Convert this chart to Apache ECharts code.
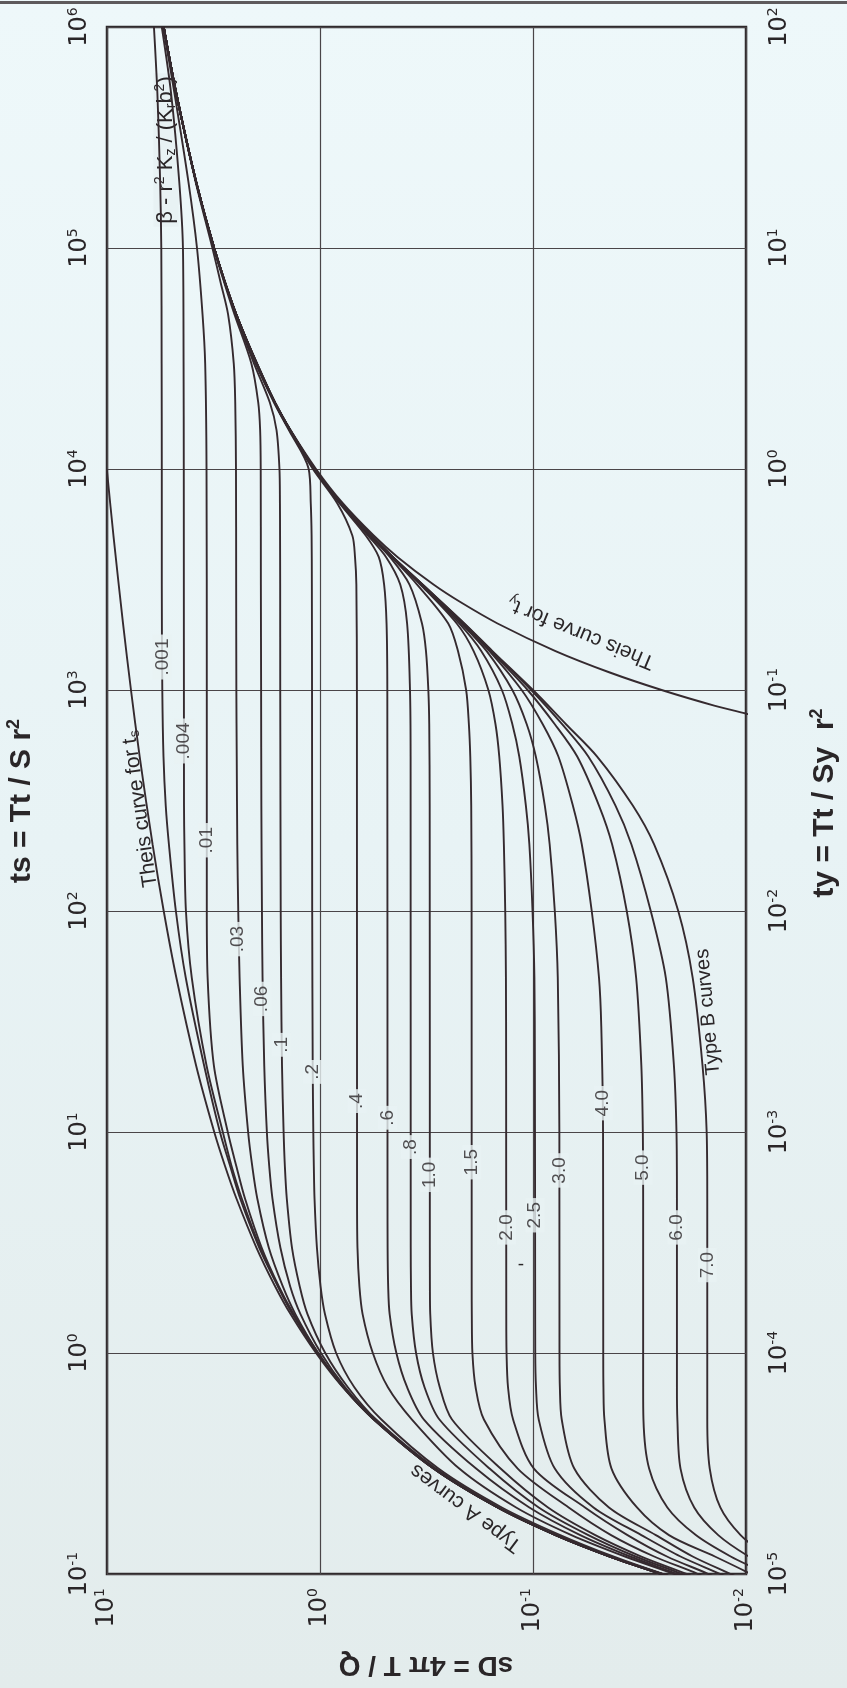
<!DOCTYPE html>
<html><head><meta charset="utf-8">
<script src="https://cdn.jsdelivr.net/npm/echarts@6/dist/echarts.min.js"></script>
<style>
html,body{margin:0;padding:0;}
body{width:847px;height:1688px;background:linear-gradient(180deg,#eef8fa 0%,#e8f3f5 50%,#e3ecec 100%);}
#chart{width:847px;height:1688px;}
</style></head><body><div id="chart"></div>
<script>
// ---------- axis ticks (decade exponents) ----------
const tsTickExp = [-1, 0, 1, 2, 3, 4, 5, 6];      // ts = Tt / S r^2 (left)
const tyTickExp = [-5, -4, -3, -2, -1, 0, 1, 2];  // ty = Tt / Sy r^2 (right)
const sdTickExp = [1, 0, -1, -2];                 // sD = 4 pi T / Q (bottom)

// ---------- curves, pairs [ts, sD] ----------
const theisS = [[0.09,0.0174],[0.1,0.0249],[0.12,0.0436],[0.15,0.0784],[0.2,0.1467],[0.3,0.2932],[0.5,0.5598],[0.7,0.782],[1,1.044],[1.5,1.375],[2,1.623],[3,1.989],[5,2.468],[7,2.79],[10,3.137],[20,3.817],[50,4.726],[100,5.417],[200,6.109],[500,7.024],[1000,7.717],[2000,8.41],[5000,9.327],[10000,10.02]];
const theisY = [[700,0.0064],[778,0.0098],[850,0.0141],[1000,0.0249],[1200,0.0436],[1500,0.0784],[2000,0.1467],[2500,0.2194],[3000,0.2932],[4000,0.433],[5000,0.5598],[7000,0.782],[10000,1.044],[15000,1.375],[20000,1.623],[30000,1.989],[50000,2.468],[70000,2.79],[100000,3.137],[200000,3.817],[500000,4.726],[1000000,5.417]];

const b0001 = [[0.09,0.0174],[0.1,0.0249],[0.12,0.0436],[0.15,0.0784],[0.2,0.1466],[0.3,0.293],[0.5,0.557],[0.7,0.777],[1,1.03],[1.5,1.345],[2,1.575],[3,1.93],[5,2.37],[7,2.64],[10,2.95],[20,3.5],[50,4.27],[100,4.75],[200,5.12],[300,5.3],[500,5.43],[1000,5.5],[3000,5.53],[10000,5.53],[30000,5.54],[100000,5.56],[200000,5.63],[500000,5.8],[1000000,6.02]];
const b0004 = [[0.09,0.0174],[0.1,0.0249],[0.12,0.0436],[0.15,0.0784],[0.2,0.1466],[0.3,0.293],[0.5,0.557],[0.7,0.777],[1,1.025],[1.5,1.34],[2,1.57],[3,1.91],[5,2.33],[7,2.6],[10,2.86],[20,3.41],[50,4.0],[100,4.26],[200,4.33],[300,4.35],[10000,4.36],[30000,4.37],[100000,4.4],[200000,4.58],[500000,5.0],[1000000,5.53]];
const b001 = [[0.09,0.0174],[0.1,0.0249],[0.12,0.0436],[0.15,0.0784],[0.2,0.1466],[0.3,0.293],[0.5,0.556],[0.7,0.775],[1,1.02],[1.5,1.33],[2,1.56],[3,1.88],[5,2.25],[7,2.47],[10,2.71],[20,3.15],[50,3.37],[100,3.4],[1000,3.4],[10000,3.41],[30000,3.46],[50000,3.56],[100000,3.78],[200000,4.15],[500000,4.82],[1000000,5.45]];
const b003 = [[0.09,0.0174],[0.1,0.0249],[0.12,0.0436],[0.15,0.0783],[0.2,0.1466],[0.3,0.2925],[0.5,0.558],[0.7,0.778],[1,1.02],[1.5,1.305],[2,1.495],[3,1.74],[5,1.97],[7,2.08],[10,2.175],[20,2.305],[50,2.385],[100,2.42],[200,2.445],[500,2.46],[1000,2.47],[3000,2.475],[10000,2.48],[20000,2.5],[30000,2.54],[50000,2.7],[70000,2.93],[100000,3.2],[200000,3.84],[500000,4.735],[1000000,5.42]];
const b006 = [[0.09,0.0174],[0.1,0.0249],[0.12,0.0435],[0.15,0.078],[0.2,0.146],[0.3,0.29],[0.5,0.552],[0.7,0.762],[1,0.99],[1.5,1.235],[2,1.38],[3,1.535],[5,1.672],[7,1.731],[10,1.776],[20,1.827],[50,1.861],[100,1.873],[300,1.885],[1000,1.89],[3000,1.895],[10000,1.898],[15000,1.91],[20000,1.95],[30000,2.1],[50000,2.52],[70000,2.82],[100000,3.155],[200000,3.825],[500000,4.729],[1000000,5.418]];
const b01 = [[0.09,0.0174],[0.1,0.0248],[0.12,0.0434],[0.15,0.0775],[0.2,0.1445],[0.3,0.286],[0.5,0.545],[0.7,0.74],[1,0.945],[1.5,1.145],[2,1.245],[3,1.354],[5,1.432],[7,1.462],[10,1.482],[20,1.508],[50,1.523],[100,1.529],[1000,1.537],[3000,1.538],[5000,1.54],[7000,1.542],[10000,1.55],[15000,1.6],[20000,1.72],[30000,2.04],[50000,2.49],[70000,2.8],[100000,3.145],[200000,3.822],[500000,4.728],[1000000,5.418]];
const b02 = [[0.09,0.0172],[0.1,0.0245],[0.12,0.042],[0.15,0.0745],[0.2,0.14],[0.3,0.278],[0.5,0.515],[0.7,0.69],[1,0.84],[1.5,0.948],[2,0.994],[3,1.034],[5,1.061],[7,1.069],[10,1.075],[20,1.082],[100,1.088],[1000,1.09],[3000,1.092],[5000,1.095],[7000,1.105],[10000,1.13],[15000,1.4],[20000,1.645],[30000,2.0],[50000,2.474],[70000,2.795],[100000,3.14],[200000,3.82],[500000,4.728],[1000000,5.418]];
const b04 = [[0.09,0.0165],[0.1,0.0217],[0.12,0.037],[0.15,0.066],[0.2,0.12],[0.3,0.222],[0.5,0.37],[0.7,0.48],[1,0.565],[1.5,0.631],[2,0.653],[3,0.667],[5,0.67],[1000,0.671],[3000,0.675],[4000,0.685],[5000,0.705],[7000,0.83],[10000,1.08],[15000,1.39],[20000,1.635],[30000,1.995],[50000,2.472],[100000,3.14],[200000,3.82],[500000,4.728],[1000000,5.418]];
const b06 = [[0.09,0.016],[0.1,0.021],[0.12,0.035],[0.15,0.06],[0.2,0.104],[0.3,0.185],[0.5,0.325],[0.7,0.39],[1,0.438],[1.5,0.471],[2,0.4786],[3,0.4815],[5,0.482],[1000,0.483],[2000,0.487],[3000,0.5],[4000,0.53],[5000,0.61],[7000,0.81],[10000,1.07],[15000,1.387],[20000,1.632],[50000,2.472],[100000,3.14],[200000,3.82],[500000,4.728],[1000000,5.418]];
const b08 = [[0.09,0.0155],[0.1,0.02],[0.12,0.033],[0.15,0.055],[0.2,0.094],[0.3,0.16],[0.5,0.275],[0.7,0.323],[1,0.354],[1.5,0.371],[2,0.374],[3,0.375],[500,0.3755],[1000,0.378],[2000,0.39],[3000,0.42],[4000,0.49],[5000,0.595],[7000,0.805],[10000,1.065],[15000,1.386],[20000,1.631],[50000,2.472],[100000,3.14],[200000,3.82],[500000,4.728],[1000000,5.418]];
const b10 = [[0.09,0.015],[0.1,0.019],[0.12,0.031],[0.15,0.051],[0.2,0.085],[0.3,0.142],[0.5,0.24],[0.7,0.274],[1,0.295],[1.5,0.3037],[2,0.3048],[3,0.305],[300,0.3055],[700,0.307],[1000,0.31],[1500,0.318],[2000,0.332],[3000,0.38],[4000,0.47],[5000,0.585],[7000,0.8],[10000,1.062],[15000,1.386],[20000,1.63],[50000,2.472],[100000,3.14],[200000,3.82],[500000,4.728],[1000000,5.418]];
const b15 = [[0.09,0.0135],[0.1,0.0168],[0.12,0.027],[0.15,0.043],[0.2,0.068],[0.3,0.118],[0.5,0.17],[0.7,0.186],[1,0.1925],[1.5,0.1938],[2,0.194],[100,0.1942],[300,0.195],[500,0.197],[700,0.2],[1000,0.206],[1500,0.225],[2000,0.25],[3000,0.35],[4000,0.462],[5000,0.58],[7000,0.799],[10000,1.061],[20000,1.63],[50000,2.472],[100000,3.14],[200000,3.82],[500000,4.728],[1000000,5.418]];
const b20 = [[0.09,0.012],[0.1,0.015],[0.12,0.0235],[0.15,0.036],[0.2,0.057],[0.3,0.099],[0.5,0.124],[0.7,0.131],[1,0.1331],[1.5,0.1335],[20,0.1337],[50,0.134],[100,0.135],[200,0.137],[300,0.139],[500,0.144],[700,0.15],[1000,0.162],[1500,0.19],[2000,0.228],[3000,0.338],[4000,0.459],[5000,0.579],[7000,0.798],[10000,1.061],[20000,1.63],[50000,2.472],[100000,3.14],[200000,3.82],[500000,4.728],[1000000,5.418]];
const b25 = [[0.09,0.0105],[0.1,0.0132],[0.12,0.0203],[0.15,0.031],[0.2,0.052],[0.3,0.079],[0.5,0.094],[0.7,0.0968],[1,0.0976],[2,0.0977],[20,0.098],[50,0.0985],[100,0.1005],[200,0.104],[300,0.108],[500,0.116],[700,0.125],[1000,0.14],[1500,0.175],[2000,0.222],[3000,0.335],[4000,0.458],[5000,0.578],[7000,0.797],[10000,1.06],[20000,1.63],[50000,2.472],[100000,3.14],[200000,3.82],[500000,4.728],[1000000,5.418]];
const b30 = [[0.09,0.0093],[0.1,0.0118],[0.12,0.0178],[0.15,0.0265],[0.2,0.044],[0.3,0.064],[0.5,0.0733],[0.7,0.0748],[1,0.0751],[10,0.0752],[50,0.0765],[100,0.079],[200,0.0835],[300,0.088],[500,0.097],[700,0.107],[1000,0.125],[1500,0.165],[2000,0.217],[3000,0.333],[4000,0.457],[5000,0.577],[7000,0.797],[10000,1.06],[20000,1.63],[50000,2.472],[100000,3.14],[200000,3.82],[500000,4.728],[1000000,5.418]];
const b40 = [[0.09,0.0078],[0.1,0.0095],[0.12,0.014],[0.15,0.023],[0.2,0.0325],[0.3,0.0428],[0.5,0.0462],[0.7,0.0467],[1,0.0468],[10,0.0469],[30,0.0478],[50,0.049],[100,0.053],[200,0.059],[300,0.065],[500,0.076],[700,0.09],[1000,0.113],[1500,0.16],[2000,0.214],[3000,0.332],[4000,0.457],[5000,0.577],[7000,0.796],[10000,1.06],[20000,1.63],[50000,2.472],[100000,3.14],[200000,3.82],[500000,4.728],[1000000,5.418]];
const b50 = [[0.09,0.0066],[0.1,0.008],[0.12,0.0118],[0.15,0.0172],[0.2,0.0234],[0.3,0.0285],[0.5,0.0303],[0.7,0.0304],[5,0.0304],[10,0.0305],[20,0.031],[50,0.0328],[100,0.0363],[200,0.0425],[300,0.049],[500,0.062],[700,0.079],[1000,0.106],[1500,0.158],[2000,0.212],[3000,0.331],[4000,0.456],[5000,0.576],[7000,0.796],[10000,1.06],[20000,1.63],[50000,2.472],[100000,3.14],[200000,3.82],[500000,4.728],[1000000,5.418]];
const b60 = [[0.09,0.0055],[0.1,0.0068],[0.12,0.0097],[0.15,0.0135],[0.2,0.0175],[0.3,0.0203],[0.5,0.021],[0.7,0.0211],[5,0.0211],[10,0.0212],[20,0.0218],[50,0.0238],[100,0.028],[200,0.0345],[300,0.041],[500,0.055],[700,0.073],[1000,0.102],[1500,0.156],[2000,0.211],[3000,0.3305],[4000,0.456],[5000,0.576],[7000,0.796],[10000,1.06],[20000,1.63],[50000,2.472],[100000,3.14],[200000,3.82],[500000,4.728],[1000000,5.418]];
const b70 = [[0.09,0.0045],[0.1,0.0057],[0.12,0.0079],[0.15,0.0106],[0.2,0.0132],[0.3,0.0148],[0.5,0.0152],[1,0.0152],[5,0.0152],[10,0.0153],[20,0.016],[50,0.0178],[100,0.0208],[200,0.027],[300,0.034],[500,0.05],[700,0.07],[1000,0.1],[1500,0.155],[2000,0.21],[3000,0.33],[4000,0.455],[5000,0.575],[7000,0.795],[10000,1.06],[15000,1.385],[20000,1.63],[30000,1.995],[50000,2.472],[70000,2.794],[100000,3.14],[200000,3.82],[500000,4.728],[1000000,5.418]];

// ---------- beta labels on the curves ----------
const betaLabels = ['.001', '.004', '.01', '.03', '.06', '.1', '.2', '.4', '.6', '.8', '1.0', '1.5', '2.0', '2.5', '3.0', '4.0', '5.0', '6.0', '7.0'];
const betaLabelTs = [1410, 588, 209, 74.6, 40, 24.8, 18.7, 13.8, 11.6, 8.55, 6.4, 7.3, 3.7, 4.2, 6.7, 13.5, 6.9, 3.7, 2.5];
const betaLabelSd = [5.5, 4.35, 3.4, 2.43, 1.87, 1.52, 1.085, 0.67, 0.482, 0.375, 0.305, 0.194, 0.1335, 0.0977, 0.0752, 0.0469, 0.0304, 0.0211, 0.0152];

const betaCurves = [b0001, b0004, b001, b003, b006, b01, b02, b04, b06, b08, b10, b15, b20, b25, b30, b40, b50, b60, b70];

// ---------- styling ----------
const F = "'Liberation Sans', Arial, Helvetica, sans-serif";
const FT = "'DejaVu Sans', 'Liberation Sans', sans-serif";
const INK = '#352a2f';
const TXT = '#2a2628';
const BG = '#e8f2f4';

function expLabel(exps) {
  return function (v) {
    const e = Math.round(Math.log10(v));
    return exps.indexOf(e) >= 0 ? '{b|10}{s|' + e + '}' : '';
  };
}
const tickRich = {
  b: { fontFamily: FT, fontSize: 24, color: TXT, lineHeight: 28 },
  s: { fontFamily: FT, fontSize: 14, color: TXT, verticalAlign: 'top', lineHeight: 16 }
};

const curveSeries = [theisS, theisY].concat(betaCurves).map(function (c) {
  return {
    type: 'line', xAxisIndex: 0, yAxisIndex: 0,
    data: c.map(function (p) { return [p[1], p[0]]; }),
    symbol: 'none', smooth: 0.3, clip: true,
    lineStyle: { color: INK, width: 1.9 }, silent: true, z: 3
  };
});

const labelSeries = {
  type: 'scatter', xAxisIndex: 0, yAxisIndex: 0, z: 6, silent: true,
  symbolSize: 1, itemStyle: { color: 'rgba(0,0,0,0)' },
  data: betaLabels.map(function (t, i) { return { value: [betaLabelSd[i], betaLabelTs[i]], name: t }; }),
  label: {
    show: true, position: 'inside', rotate: 90, formatter: function (p) { return p.name; },
    fontFamily: F, fontSize: 19, color: TXT, backgroundColor: BG, padding: [0, 4]
  }
};

const richBold = {
  m: { fontFamily: F, fontSize: 30, fontWeight: 'bold', fill: TXT, color: TXT, lineHeight: 34 },
  p: { fontFamily: F, fontSize: 18, fontWeight: 'bold', fill: TXT, color: TXT, verticalAlign: 'top', lineHeight: 20 }
};
const richSub = {
  a: { fontFamily: F, fontSize: 21, fill: TXT, color: TXT, lineHeight: 25 },
  s: { fontFamily: F, fontSize: 14, fill: TXT, color: TXT, verticalAlign: 'bottom', lineHeight: 15 }
};

const chart = echarts.init(document.getElementById('chart'), null, { renderer: 'canvas' });
chart.setOption({
  animation: false,
  backgroundColor: 'transparent',
  grid: { left: 107, right: 101, top: 27, bottom: 114, show: true, borderColor: '#2f2a2c', borderWidth: 2.5, backgroundColor: 'transparent', containLabel: false, outerBoundsMode: 'none' },
  xAxis: [{
    type: 'log', logBase: 10, min: 0.01, max: 10, interval: 1, inverse: true, position: 'bottom',
    axisLine: { show: false }, axisTick: { show: false },
    splitLine: { show: true, lineStyle: { color: '#4a4548', width: 1.2 } },
    axisLabel: { rotate: 90, margin: 14, formatter: expLabel(sdTickExp), rich: tickRich }
  }],
  yAxis: [{
    type: 'log', logBase: 10, min: 0.1, max: 1e6, interval: 1, position: 'left',
    axisLine: { show: false }, axisTick: { show: false },
    splitLine: { show: true, lineStyle: { color: '#4a4548', width: 1.2 } },
    axisLabel: { rotate: 90, margin: 13, formatter: expLabel(tsTickExp), rich: tickRich }
  }, {
    type: 'log', logBase: 10, min: 1e-5, max: 100, interval: 1, position: 'right',
    axisLine: { show: false }, axisTick: { show: false }, splitLine: { show: false },
    axisLabel: { rotate: 90, margin: 20, formatter: expLabel(tyTickExp), rich: tickRich }
  }],
  series: curveSeries.concat([labelSeries]),
  graphic: [
    { type: 'rect', shape: { x: 0, y: 1, width: 847, height: 3 }, style: { fill: '#5e5a5c' }, silent: true },
    { type: 'text', x: 22, y: 801, rotation: Math.PI / 2, silent: true,
      style: { text: '{m|ts = Tt / S r}{p|2}', align: 'center', verticalAlign: 'middle', rich: richBold } },
    { type: 'text', x: 825, y: 803, rotation: Math.PI / 2, silent: true,
      style: { text: '{m|ty = Tt / Sy  r}{p|2}', align: 'center', verticalAlign: 'middle', rich: richBold } },
    { type: 'text', x: 426, y: 1665, rotation: Math.PI, silent: true,
      style: { text: 'sD = 4\u03C0 T / Q', align: 'center', verticalAlign: 'middle',
        font: "bold 28px 'Liberation Sans', Arial, sans-serif", fill: TXT } },
    { type: 'text', x: 140, y: 809, rotation: Math.PI / 2 + 0.14, silent: true,
      style: { text: '{a|Theis curve for t}{s|s}', align: 'center', verticalAlign: 'middle', rich: richSub } },
    { type: 'text', x: 708, y: 1012, rotation: Math.PI / 2 + 0.09, silent: true,
      style: { text: 'Type B curves', align: 'center', verticalAlign: 'middle', font: "20px 'Liberation Sans', Arial, sans-serif", fill: TXT } },
    { type: 'text', x: 466, y: 1508, rotation: 2.5, silent: true,
      style: { text: 'Type A curves', align: 'center', verticalAlign: 'middle', font: "21px 'Liberation Sans', Arial, sans-serif", fill: TXT } },
    { type: 'text', x: 581, y: 633, rotation: 2.75, silent: true,
      style: { text: '{a|Theis curve for t}{s|y}', align: 'center', verticalAlign: 'middle', rich: richSub } },
    { type: 'text', x: 521, y: 1265, silent: true,
      style: { text: '-', align: 'center', verticalAlign: 'middle', font: "19px 'Liberation Sans', Arial, sans-serif", fill: TXT } },
    { type: 'text', x: 166, y: 150, rotation: Math.PI / 2, silent: true,
      style: { text: '{a|\u03B2 - r}{p|2}{a| K}{u|z}{a| / (K}{u|r}{a|b}{p|2}{a|)}', align: 'center', verticalAlign: 'middle',
        backgroundColor: BG, padding: [0, 3],
        rich: { a: { fontFamily: F, fontSize: 22, fill: TXT, color: TXT, lineHeight: 25 },
                p: { fontFamily: F, fontSize: 14, fill: TXT, color: TXT, verticalAlign: 'top', lineHeight: 15 },
                u: { fontFamily: F, fontSize: 14, fill: TXT, color: TXT, verticalAlign: 'bottom', lineHeight: 15 } } } }
  ]
});
</script></body></html>
